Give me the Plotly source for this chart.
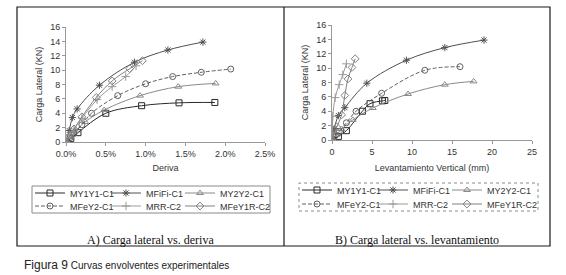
import plotly.graph_objects as go

W, H = 566, 275

names = ["MY1Y1-C1", "MFiFi-C1", "MY2Y2-C1", "MFeY2-C1", "MRR-C2", "MFeY1R-C2"]

# Panel A: lateral load vs drift (%)
a_my1y1_x = [0, 0.06, 0.15, 0.50, 0.95, 1.42, 1.87]
a_my1y1_y = [0, 0.5, 1.3, 4.0, 5.05, 5.45, 5.5]
a_mfifi_x = [0, 0.04, 0.08, 0.14, 0.42, 0.86, 1.28, 1.72]
a_mfifi_y = [0, 1.6, 3.4, 4.6, 7.9, 11.1, 12.8, 13.9]
a_my2y2_x = [0, 0.06, 0.12, 0.24, 0.48, 0.93, 1.41, 1.88]
a_my2y2_y = [0, 0.7, 1.5, 2.8, 4.45, 6.45, 7.7, 8.15]
a_mfey2_x = [0, 0.05, 0.10, 0.20, 0.32, 0.65, 1.00, 1.34, 1.70, 2.07]
a_mfey2_y = [0, 0.6, 1.2, 2.4, 4.0, 6.45, 8.1, 9.1, 9.7, 10.15]
a_mrr_x = [0, 0.04, 0.10, 0.20, 0.39, 0.58, 0.75, 0.88]
a_mrr_y = [0, 1.0, 1.8, 3.3, 5.9, 7.7, 9.1, 10.6]
a_mfey1r_x = [0, 0.05, 0.10, 0.20, 0.38, 0.58, 0.80, 0.96]
a_mfey1r_y = [0, 0.9, 1.8, 3.5, 6.2, 8.5, 10.2, 11.3]

# Panel B: lateral load vs vertical uplift (mm)
b_my1y1_x = [0, 0.8, 1.8, 3.8, 4.75, 6.3, 6.6]
b_my1y1_y = [0, 0.5, 1.3, 4.0, 5.05, 5.45, 5.5]
b_mfifi_x = [0, 0.3, 0.8, 1.6, 4.35, 9.3, 14.1, 19.0]
b_mfifi_y = [0, 1.6, 3.4, 4.5, 7.9, 11.1, 12.85, 13.9]
b_my2y2_x = [0, 0.5, 1.2, 2.6, 5.1, 9.5, 14.1, 17.7]
b_my2y2_y = [0, 0.7, 1.5, 2.8, 4.45, 6.4, 7.7, 8.15]
b_mfey2_x = [0, 0.4, 0.9, 1.8, 3.0, 6.2, 11.6, 16.0]
b_mfey2_y = [0, 0.6, 1.2, 2.4, 4.0, 6.5, 9.7, 10.2]
b_mrr_x = [0, 0.02, 0.05, 0.10, 0.40, 0.90, 1.35, 1.80]
b_mrr_y = [0, 1.0, 1.8, 3.3, 5.9, 7.7, 9.1, 10.6]
b_mfey1r_x = [0, 0.3, 0.6, 1.2, 1.6, 2.0, 2.5, 2.9]
b_mfey1r_y = [0, 0.9, 1.8, 3.5, 6.2, 8.5, 10.1, 11.3]

a_xticks = [0, 0.5, 1.0, 1.5, 2.0, 2.5]
a_xlabels = ["0.0%", "0.5%", "1.0%", "1.5%", "2.0%", "2.5%"]
b_xticks = [0, 5, 10, 15, 20, 25]
yticks = [0, 2, 4, 6, 8, 10, 12, 14, 16]

styles = [
    dict(color="#2a2a2a", symbol="square-open", dash="solid"),
    dict(color="#505050", symbol="asterisk-open", dash="solid"),
    dict(color="#8a8a8a", symbol="triangle-up-open", dash="solid"),
    dict(color="#606060", symbol="circle-open", dash="4px,2px"),
    dict(color="#9a9a9a", symbol="cross-thin-open", dash="solid"),
    dict(color="#808080", symbol="diamond-open", dash="solid"),
]

A = [(a_my1y1_x, a_my1y1_y), (a_mfifi_x, a_mfifi_y), (a_my2y2_x, a_my2y2_y),
     (a_mfey2_x, a_mfey2_y), (a_mrr_x, a_mrr_y), (a_mfey1r_x, a_mfey1r_y)]
B = [(b_my1y1_x, b_my1y1_y), (b_mfifi_x, b_mfifi_y), (b_my2y2_x, b_my2y2_y),
     (b_mfey2_x, b_mfey2_y), (b_mrr_x, b_mrr_y), (b_mfey1r_x, b_mfey1r_y)]

def px(x):
    return x / W

def py(y):
    return 1 - y / H

fig = go.Figure()

FONT = "Liberation Sans, Arial, sans-serif"
col_a = [30, 106, 180]
row_a = [193, 206]
col_b = [c + 267 for c in col_a]
row_b = [190, 204]
legends = {}
n = 0
for panel, data, cols, rows, xa, ya in [("a", A, col_a, row_a, "x", "y"), ("b", B, col_b, row_b, "x2", "y2")]:
    for i, (xs, ys) in enumerate(data):
        n += 1
        key = "legend" if n == 1 else f"legend{n}"
        st = styles[i]
        fig.add_trace(go.Scatter(
            x=xs, y=ys, xaxis=xa, yaxis=ya, name=names[i], mode="lines+markers",
            line=dict(color=st["color"], width=1, dash=st["dash"], shape="spline", smoothing=1.0),
            marker=dict(symbol=st["symbol"], size=6, color=st["color"], line=dict(width=1, color=st["color"])),
            legend=key, showlegend=True,
        ))
        legends[key] = dict(
            x=px(cols[i % 3]), y=py(rows[i // 3]), xanchor="left", yanchor="middle",
            bgcolor="rgba(0,0,0,0)", borderwidth=0, itemwidth=30,
            font=dict(family=FONT, size=9, color="#333333"),
        )

axis_common = dict(showgrid=False, zeroline=False, showline=True, linecolor="#999999", linewidth=1,
                   ticks="outside", ticklen=3, tickcolor="#999999",
                   tickfont=dict(family=FONT, size=9, color="#333333"))

fig.update_layout(
    width=W, height=H, margin=dict(l=0, r=0, t=0, b=0, autoexpand=False),
    paper_bgcolor="white", plot_bgcolor="white", showlegend=True,
    xaxis=dict(domain=[px(66), px(265)], range=[0, 2.5], tickvals=a_xticks, ticktext=a_xlabels,
               title=dict(text="Deriva", font=dict(family=FONT, size=9, color="#333333"), standoff=6),
               anchor="y", **axis_common),
    yaxis=dict(domain=[py(142), py(27)], range=[0, 16], tickvals=yticks,
               title=dict(text="Carga Lateral (KN)", font=dict(family=FONT, size=9, color="#333333"), standoff=6),
               anchor="x", **axis_common),
    xaxis2=dict(domain=[px(332), px(532)], range=[0, 25], tickvals=b_xticks,
                title=dict(text="Levantamiento Vertical (mm)", font=dict(family=FONT, size=9, color="#333333"), standoff=8),
                anchor="y2", **axis_common),
    yaxis2=dict(domain=[py(140), py(25)], range=[0, 16], tickvals=yticks,
                title=dict(text="Carga Lateral (KN)", font=dict(family=FONT, size=9, color="#333333"), standoff=6),
                anchor="x2", **axis_common),
    **legends,
)

shapes = [
    dict(type="rect", xref="paper", yref="paper", x0=px(17), x1=px(550), y0=py(246), y1=py(7),
         line=dict(color="#1a1a1a", width=1.2)),
    dict(type="line", xref="paper", yref="paper", x0=px(284), x1=px(284), y0=py(246), y1=py(7),
         line=dict(color="#1a1a1a", width=1.2)),
    dict(type="rect", xref="paper", yref="paper", x0=px(32), x1=px(270), y0=py(213), y1=py(186),
         line=dict(color="#8a8a8a", width=1)),
    dict(type="rect", xref="paper", yref="paper", x0=px(299), x1=px(538), y0=py(211), y1=py(183),
         line=dict(color="#8a8a8a", width=1, dash="dot")),
]
fig.update_layout(shapes=shapes)

SERIF = "Liberation Serif, Times New Roman, serif"
anns = [
    dict(text="A) Carga lateral vs. deriva", x=px(150), y=py(240), xref="paper", yref="paper",
         showarrow=False, xanchor="center", yanchor="middle", font=dict(family=SERIF, size=12, color="#111111")),
    dict(text="B) Carga lateral vs. levantamiento", x=px(417), y=py(240), xref="paper", yref="paper",
         showarrow=False, xanchor="center", yanchor="middle", font=dict(family=SERIF, size=12, color="#111111")),
    dict(text="<span style='font-size:12px'>Figura 9</span> Curvas envolventes experimentales",
         x=px(22), y=py(265), xref="paper", yref="paper", showarrow=False, xanchor="left", yanchor="middle",
         font=dict(family="Liberation Sans Narrow, Liberation Sans, Arial, sans-serif", size=10, color="#222222")),
]
fig.update_layout(annotations=anns)

fig.write_html("out.html", config={"displayModeBar": False, "responsive": False},
               post_script="document.body.style.margin='0';")
